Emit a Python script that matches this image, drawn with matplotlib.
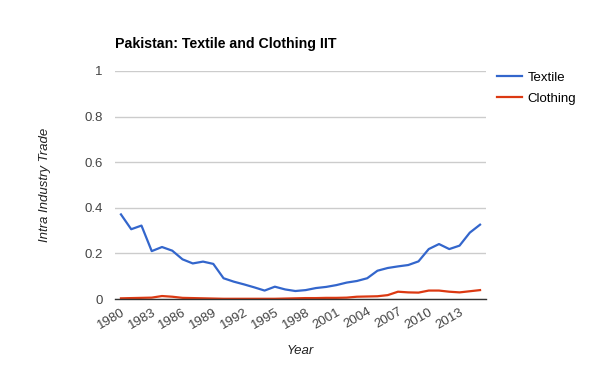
import matplotlib.pyplot as plt

plt.rcParams['font.family'] = ['Liberation Sans', 'DejaVu Sans']

years = list(range(1980, 2016))
textile = [0.371, 0.306, 0.322, 0.210, 0.228, 0.212, 0.174, 0.156, 0.164, 0.154,
           0.091, 0.076, 0.064, 0.051, 0.037, 0.054, 0.042, 0.035, 0.039, 0.048,
           0.053, 0.061, 0.072, 0.079, 0.091, 0.124, 0.136, 0.143, 0.149, 0.165,
           0.219, 0.241, 0.219, 0.234, 0.291, 0.326]
clothing = [0.003, 0.004, 0.005, 0.006, 0.013, 0.010, 0.005, 0.004, 0.003, 0.002,
            0.001, 0.001, 0.001, 0.001, 0.001, 0.001, 0.002, 0.003, 0.004, 0.004,
            0.005, 0.005, 0.006, 0.010, 0.011, 0.012, 0.017, 0.032, 0.029, 0.028,
            0.037, 0.037, 0.032, 0.029, 0.034, 0.039]
x_ticks = list(range(1980, 2016, 3))
y_ticks = [0, 0.2, 0.4, 0.6, 0.8, 1]
y_tick_labels = ["0", "0.2", "0.4", "0.6", "0.8", "1"]

fig = plt.figure(figsize=(6, 3.71), dpi=100)
ax = fig.add_axes([115 / 600, 72 / 371, 371 / 600, 228 / 371])

ax.plot(years, textile, color="#3366cc", linewidth=1.6, solid_joinstyle="round", label="Textile")
ax.plot(years, clothing, color="#dc3912", linewidth=1.6, solid_joinstyle="round", label="Clothing")

ax.set_xlim(1979.42, 2015.58)
ax.set_ylim(0, 1)
ax.set_yticks(y_ticks)
ax.set_yticklabels(y_tick_labels)
ax.set_xticks(x_ticks)
ax.set_xticklabels([str(y) for y in x_ticks], rotation=30, ha="right", va="top",
                   rotation_mode="anchor")
ax.tick_params(axis="both", length=0, labelsize=9.5, colors="#444444")
ax.tick_params(axis="y", pad=9)
ax.tick_params(axis="x", pad=5)

ax.grid(axis="y", color="#cccccc", linewidth=1)
ax.set_axisbelow(True)
for side in ["top", "right", "left"]:
    ax.spines[side].set_visible(False)
ax.spines["bottom"].set_color("#333333")
ax.spines["bottom"].set_linewidth(1)

ax.set_ylabel("Intra Industry Trade", fontstyle="italic", fontsize=9.5, color="#222222")
ax.set_xlabel("Year", fontstyle="italic", fontsize=9.5, color="#222222", labelpad=10)
ax.yaxis.set_label_coords(-0.1725, 0.5)

fig.text(115 / 600, 1 - 44 / 371, "Pakistan: Textile and Clothing IIT", fontsize=10.2,
         fontweight="bold", va="center", ha="left", color="#000000")

ax.legend(loc="upper left", bbox_to_anchor=(494 / 600, 1 - 69 / 371), bbox_transform=fig.transFigure,
          frameon=False, fontsize=9.5, handlelength=1.9, handletextpad=0.45, labelspacing=0.65,
          borderaxespad=0, borderpad=0.2)

fig.savefig("out.png", dpi=100)
